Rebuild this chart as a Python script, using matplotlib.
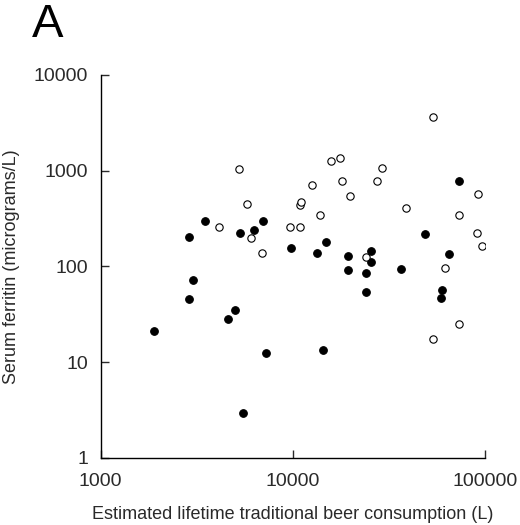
import numpy as np
import matplotlib
matplotlib.use("Agg")
import matplotlib.pyplot as plt
from matplotlib.ticker import FixedLocator, FixedFormatter, NullLocator

plt.rcParams['font.family'] = ['Liberation Sans', 'DejaVu Sans']

# open circles
open_x = [4145, 5225, 5770, 6080, 6935, 9628, 10850, 10850, 11070, 12620,
          13890, 15800, 17530, 17950, 19840, 24120, 27300, 29200, 38800, 53800,
          53450, 61700, 72990, 73500, 91200, 92000, 96900]
open_y = [257, 1037, 443, 196, 137, 255, 257, 433, 473, 700,
          340, 1247, 1340, 783, 547, 124, 771, 1062, 409, 3589,
          17.3, 95.3, 25.2, 340, 223, 569, 163]

# filled circles
filled_x = [1902, 2871, 2871, 3011, 3477, 4600, 5020, 5286, 5503, 6252,
            6966, 7222, 9820, 13406, 14410, 14880, 19370, 19370, 24120, 24120,
            25500, 25500, 36400, 48530, 59700, 59000, 64700, 73500]
filled_y = [21.3, 201, 45.6, 71.4, 297, 28, 35, 223, 2.92, 239,
            295, 12.6, 154, 139, 13.5, 181, 127, 92.3, 84.5, 54,
            144.5, 111, 93.8, 219, 56.6, 46.3, 133, 783]

x_ticks = [1000, 10000, 100000]
y_ticks = [1, 10, 100, 1000, 10000]

fig = plt.figure(figsize=(5.2, 5.25), dpi=100)
ax = fig.add_axes([100.7 / 520, 1 - 458 / 525, (485 - 100.7) / 520, (458 - 74.7) / 525])

ax.scatter(filled_x, filled_y, s=30, c='black', edgecolors='black', linewidths=0.8, zorder=3)
ax.scatter(open_x, open_y, s=28, facecolors='white', edgecolors='black', linewidths=0.8, zorder=3)

ax.set_xscale('log')
ax.set_yscale('log')
ax.set_xlim(1000, 100000)
ax.set_ylim(1, 10000)

ax.xaxis.set_major_locator(FixedLocator(x_ticks))
ax.xaxis.set_major_formatter(FixedFormatter([str(v) for v in x_ticks]))
ax.yaxis.set_major_locator(FixedLocator(y_ticks))
ax.yaxis.set_major_formatter(FixedFormatter([str(v) for v in y_ticks]))
ax.xaxis.set_minor_locator(NullLocator())
ax.yaxis.set_minor_locator(NullLocator())

ax.spines['top'].set_visible(False)
ax.spines['right'].set_visible(False)
for sp in ['left', 'bottom']:
    ax.spines[sp].set_linewidth(1.0)
ax.tick_params(direction='in', length=6, width=1.0, labelsize=14, colors='#2a2a2a')
ax.tick_params(axis='y', pad=9)
ax.tick_params(axis='x', pad=11)

ax.set_xlabel('Estimated lifetime traditional beer consumption (L)', fontsize=13, color='#2a2a2a', labelpad=11)
ax.set_ylabel('Serum ferritin (micrograms/L)', fontsize=13, color='#2a2a2a', labelpad=10)

fig.text(32 / 520, 1 - 37 / 525, 'A', fontsize=34, color='black', ha='left', va='baseline')

fig.savefig('out.png', dpi=100)
